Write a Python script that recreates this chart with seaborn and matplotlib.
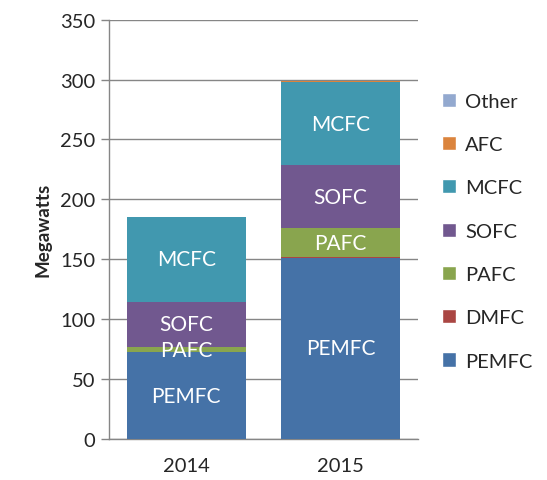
import matplotlib.pyplot as plt
import seaborn as sns
import pandas as pd
import numpy as np
from matplotlib.patches import Patch

# Datos (MW)
years = ["2014", "2015"]
pemfc = [72.5, 151.4]
dmfc = [0.0, 0.2]
pafc = [4.2, 24.4]
sofc = [38.0, 52.8]
mcfc = [70.6, 69.0]
afc = [0.0, 1.1]
other = [0.0, 0.3]

tipos = ["PEMFC", "DMFC", "PAFC", "SOFC", "MCFC", "AFC", "Other"]
colores = ["#4572A7", "#AA4643", "#89A54E", "#71588F", "#4198AF", "#DB843D", "#93A9CF"]
etiquetas = {"PEMFC", "PAFC", "SOFC", "MCFC"}

df = pd.DataFrame({"year": years, "PEMFC": pemfc, "DMFC": dmfc, "PAFC": pafc,
                   "SOFC": sofc, "MCFC": mcfc, "AFC": afc, "Other": other})

sns.set_style("white")
plt.rcParams["font.family"] = ["Lato", "DejaVu Sans"]

fig = plt.figure(figsize=(5.47, 4.81), dpi=100)
ax = fig.add_axes([0.1993, 0.0852, 0.5640, 0.8718])

# barras apiladas: se dibuja el acumulado de arriba hacia abajo
acum = df[tipos].cumsum(axis=1)
for tipo, color in reversed(list(zip(tipos, colores))):
    sns.barplot(x=df["year"], y=acum[tipo], color=color, width=0.77,
                saturation=1, ax=ax, zorder=3, edgecolor="none", linewidth=0)

# etiquetas dentro de las barras
for i in range(len(years)):
    base = 0
    for tipo in tipos:
        v = df.loc[i, tipo]
        if tipo in etiquetas and v > 0:
            ax.text(i, base + v / 2, tipo, color="white", ha="center", va="center",
                    fontsize=15, zorder=5)
        base += v

gris = "#868686"
ax.set_ylim(0, 350)
ax.set_xlim(-0.5, 1.5)
ax.set_yticks(range(0, 351, 50))
ax.yaxis.grid(True, color=gris, lw=1, zorder=0)
ax.set_axisbelow(True)
for s in ["top", "right"]:
    ax.spines[s].set_visible(False)
for s in ["left", "bottom"]:
    ax.spines[s].set_color(gris)
    ax.spines[s].set_linewidth(1)
ax.set_xticks([-0.5, 0.5, 1.5], minor=True)
ax.tick_params(axis="x", which="major", length=0, labelsize=14.5, pad=13)
ax.tick_params(axis="x", which="minor", length=5, color=gris, width=1)
ax.tick_params(axis="y", length=6, color=gris, width=1, labelsize=14.5, left=True, pad=4)
ax.set_xlabel("")
ax.set_ylabel("Megawatts", fontsize=13.5, fontweight="bold", labelpad=6)

handles = [Patch(facecolor=c, label=t) for t, c in zip(tipos, colores)][::-1]
fig.legend(handles=handles, loc="upper left", bbox_to_anchor=(0.808, 0.805),
           frameon=False, fontsize=14.5, labelspacing=1.3, handlelength=0.7,
           handleheight=0.7, handletextpad=0.45, borderaxespad=0, borderpad=0)

plt.savefig("out.png", dpi=100)
